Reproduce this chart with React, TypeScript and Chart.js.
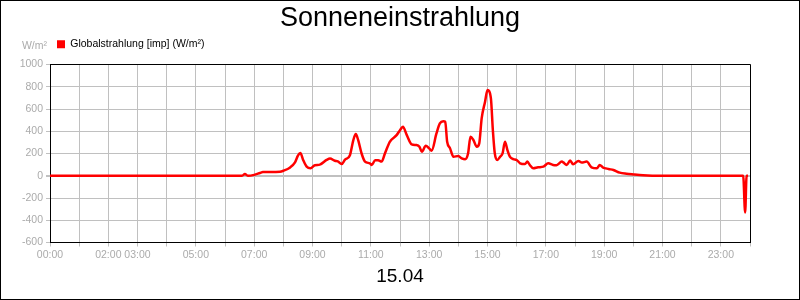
import React, { useEffect, useRef } from 'react';
import { Chart, registerables, layouts } from 'chart.js';

Chart.register(...registerables);

const TITLE = 'Sonneneinstrahlung';
const DATE_LABEL = '15.04';
const SERIES_LABEL = 'Globalstrahlung [imp] (W/m²)';
const UNIT_LABEL = 'W/m²';

// time of day in minutes
const timesMin = [
  0, 395, 401, 407, 420, 432, 438, 453, 473, 480, 494, 504, 510, 515, 521, 528, 536, 545, 555, 569,
  576, 586, 592, 600, 607, 617, 624, 629, 634, 641, 648, 658, 662, 669, 675, 682, 689, 699, 713, 720,
  726, 734, 744, 754, 760, 765, 773, 780, 785, 795, 802, 809, 813, 817, 823, 830, 840, 847, 854, 860,
  865, 871, 878, 883, 888, 895, 900, 907, 911, 915, 920, 926, 931, 936, 941, 946, 953, 960, 967, 977,
  982, 987, 994, 1004, 1015, 1025, 1035, 1042, 1053, 1056, 1063, 1070, 1076, 1087, 1094, 1104, 1114, 1125, 1131, 1137,
  1149, 1159, 1172, 1186, 1200, 1220, 1255, 1426, 1430, 1433, 1436,
];

// global radiation W/m²
const radiation = [
  0, 0, 15, 0, 8, 25, 33, 33, 36, 45, 75, 120, 180, 205, 140, 82, 67, 95, 100, 142,
  155, 135, 130, 105, 145, 185, 320, 375, 320, 200, 127, 112, 97, 140, 140, 127, 200, 305, 365, 410,
  440, 365, 282, 276, 261, 216, 270, 246, 225, 380, 470, 490, 485, 306, 246, 171, 177, 156, 148, 200,
  350, 321, 261, 291, 516, 666, 770, 696, 411, 201, 142, 171, 201, 306, 231, 171, 150, 142, 112, 105,
  127, 97, 67, 76, 82, 112, 97, 95, 127, 120, 97, 136, 103, 133, 118, 127, 76, 67, 97, 76,
  61, 52, 28, 18, 12, 5, 0, 0, -330, 0, 0,
];

const xTickLabels = [
  '00:00', '02:00', '03:00', '05:00', '07:00', '09:00', '11:00', '13:00', '15:00', '17:00', '19:00', '21:00', '23:00',
];

const Y_MIN = -600;
const Y_MAX = 1000;
const Y_STEP = 200;
const X_MIN = 0;
const X_MAX = 1440;
const X_STEP = 60;

const FONT = '"Liberation Sans", Arial, Helvetica, sans-serif';
const TICK_COLOR = '#ababab';
const GRID_COLOR = '#c0c0c0';

const spacerPlugin: any = {
  id: 'topSpacer',
  beforeInit(chart: any) {
    const box: any = {
      position: 'top',
      weight: 500,
      fullSize: false,
      options: {},
      top: 0, left: 0, right: 0, bottom: 0, width: 0, height: 0,
      isHorizontal() { return true; },
      update(maxWidth: number) { this.width = maxWidth; this.height = 5; },
      draw() {},
    };
    layouts.addBox(chart, box);
  },
};

const align = (p: number) => Math.round(p - 0.5) + 0.5;

const framePlugin: any = {
  id: 'frame',
  beforeDraw(chart: any) {
    const { ctx, width, height } = chart;
    ctx.save();
    ctx.fillStyle = '#ffffff';
    ctx.fillRect(0, 0, width, height);
    ctx.strokeStyle = '#000000';
    ctx.lineWidth = 1;
    ctx.strokeRect(0.5, 0.5, width - 1, height - 1);
    ctx.restore();
  },
  beforeDatasetsDraw(chart: any) {
    const { ctx, chartArea } = chart;
    const t = align(chartArea.top);
    const r = align(chartArea.right);
    const l = align(chartArea.left);
    const b = align(chartArea.bottom);
    ctx.save();
    ctx.strokeStyle = '#000000';
    ctx.lineWidth = 1;
    ctx.beginPath();
    ctx.moveTo(l, t);
    ctx.lineTo(r, t);
    ctx.lineTo(r, b);
    ctx.stroke();
    ctx.restore();
  },
  afterDraw(chart: any) {
    const { ctx, chartArea } = chart;
    ctx.save();
    ctx.font = `10.5px ${FONT}`;
    ctx.fillStyle = TICK_COLOR;
    ctx.textAlign = 'right';
    ctx.textBaseline = 'middle';
    ctx.fillText(UNIT_LABEL, chartArea.left - 3, chartArea.top - 18);
    ctx.restore();
  },
};

export default function App() {
  const canvasRef = useRef<HTMLCanvasElement | null>(null);

  useEffect(() => {
    document.body.style.margin = '0';
    const canvas = canvasRef.current;
    if (!canvas) return;
    Chart.defaults.font.family = FONT;

    const chart = new Chart(canvas, {
      type: 'line',
      data: {
        datasets: [
          {
            label: SERIES_LABEL,
            data: timesMin.map((t, i) => ({ x: t, y: radiation[i] })),
            borderColor: '#ff0000',
            backgroundColor: '#ff0000',
            borderWidth: 2.5,
            pointRadius: 0,
            fill: false,
            cubicInterpolationMode: 'monotone',
          },
        ],
      },
      options: {
        animation: false,
        responsive: false,
        devicePixelRatio: 1,
        layout: { padding: 0 },
        plugins: {
          title: {
            display: true,
            text: TITLE,
            color: '#000000',
            font: { size: 27, weight: 'normal', lineHeight: 1 },
            padding: { top: 5, bottom: 0 },
          },
          legend: {
            display: true,
            position: 'top',
            align: 'start',
            fullSize: false,
            labels: {
              boxWidth: 8,
              boxHeight: 8,
              padding: 7,
              color: '#000000',
              font: { size: 10.5 },
              generateLabels: (c: any) =>
                Chart.defaults.plugins.legend.labels
                  .generateLabels(c)
                  .map((l: any) => ({ ...l, lineWidth: 0, fillStyle: '#ff0000' })),
            },
          },
          tooltip: { enabled: false },
        },
        scales: {
          x: {
            type: 'linear',
            position: 'bottom',
            min: X_MIN,
            max: X_MAX,
            afterFit(s: any) { s.height = 57.5; },
            ticks: {
              stepSize: X_STEP,
              autoSkip: false,
              maxRotation: 0,
              minRotation: 0,
              color: TICK_COLOR,
              font: { size: 10.5 },
              padding: 2,
              callback: (value: any) => {
                const h = Math.round(Number(value) / 60);
                const s = String(h).padStart(2, '0') + ':00';
                return xTickLabels.includes(s) ? s : '';
              },
            },
            grid: { color: GRID_COLOR, tickColor: GRID_COLOR, tickLength: 4, drawTicks: true },
            border: { display: true, color: '#000000', width: 1 },
            title: {
              display: true,
              text: DATE_LABEL,
              color: '#000000',
              font: { size: 19 },
              padding: { top: 0, bottom: 12 },
            },
          },
          y: {
            type: 'linear',
            position: 'left',
            min: Y_MIN,
            max: Y_MAX,
            afterFit(s: any) { s.width = 50; },
            ticks: {
              stepSize: Y_STEP,
              color: TICK_COLOR,
              font: { size: 10.5 },
              padding: 3,
              callback: (value: any) => String(value),
            },
            grid: {
              color: GRID_COLOR,
              tickColor: GRID_COLOR,
              tickLength: 4,
              lineWidth: (ctx: any) => (ctx.tick && ctx.tick.value === 0 ? 2 : 1),
            },
            border: { display: true, color: '#000000', width: 1 },
          },
          yR: {
            type: 'linear',
            position: 'right',
            min: 0,
            max: 1,
            afterFit(s: any) { s.width = 50; },
            ticks: { display: false },
            grid: { display: false, drawTicks: false },
            border: { display: false },
          },
        },
      } as any,
      plugins: [spacerPlugin, framePlugin],
    });

    return () => chart.destroy();
  }, []);

  return (
    <div style={{ width: 800, height: 300 }}>
      <canvas ref={canvasRef} width={800} height={300} />
    </div>
  );
}
